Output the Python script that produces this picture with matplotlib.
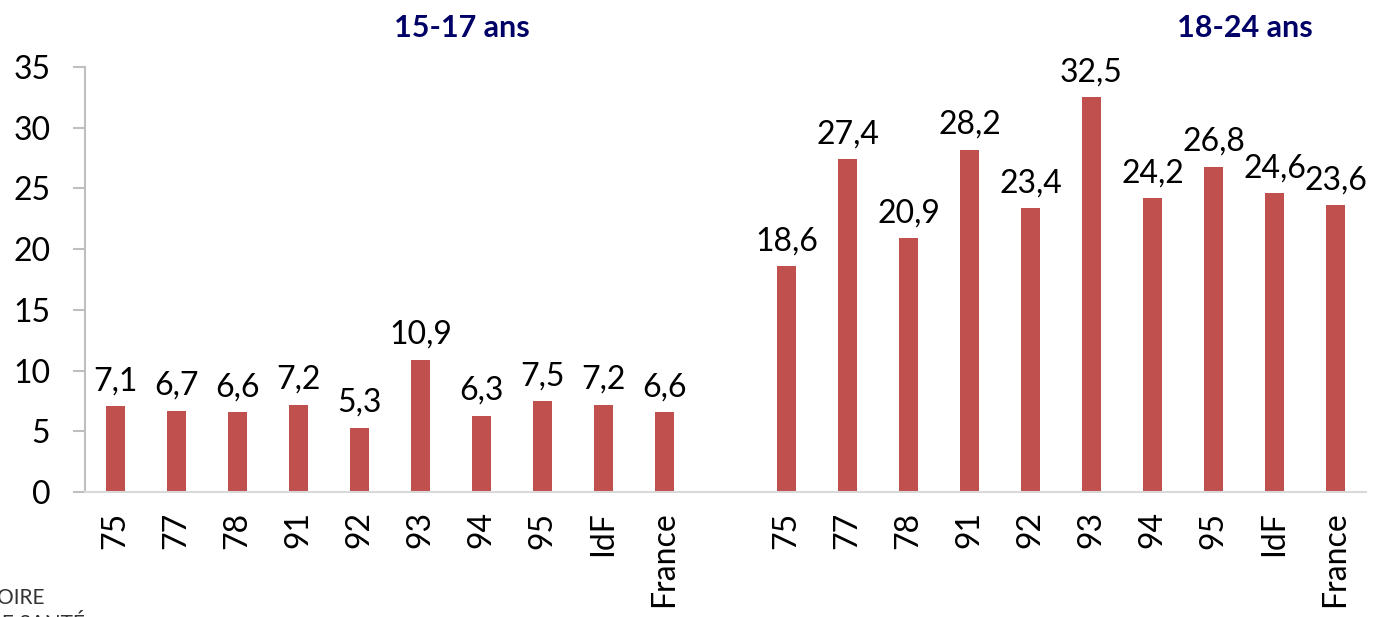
import matplotlib.pyplot as plt
import numpy as np

# données
territoires = ['75', '77', '78', '91', '92', '93', '94', '95', 'IdF', 'France']
ado_15_17 = [7.1, 6.7, 6.6, 7.2, 5.3, 10.9, 6.3, 7.5, 7.2, 6.6]
jeunes_18_24 = [18.6, 27.4, 20.9, 28.2, 23.4, 32.5, 24.2, 26.8, 24.6, 23.6]

plt.rcParams['font.family'] = ['Lato', 'DejaVu Sans']

fig = plt.figure(figsize=(13.76, 6.17), dpi=100)
ax = fig.add_axes([85 / 1376, 1 - 492 / 617, (1366 - 85) / 1376, (492 - 67) / 617])

x_gauche = np.arange(len(territoires))
x_droite = x_gauche + len(territoires) + 1
positions = np.concatenate([x_gauche, x_droite])
valeurs = ado_15_17 + jeunes_18_24
labels = territoires + territoires

bars = ax.bar(positions, valeurs, width=0.31, color='#C0504D')

for b, v in zip(bars, valeurs):
    ax.annotate(f"{v:.1f}".replace('.', ','),
                (b.get_x() + b.get_width() / 2, v),
                xytext=(0, 7), textcoords='offset points',
                ha='center', va='bottom', fontsize=23, color='black')

ax.set_xlim(-0.5, positions[-1] + 0.5)
ax.set_ylim(0, 35)
ax.set_yticks(range(0, 36, 5))
ax.set_xticks(positions)
ax.set_xticklabels(labels, rotation=90, fontsize=23)
ax.tick_params(axis='x', length=0, pad=14)
ax.tick_params(axis='y', labelsize=23, color='#BFBFBF', length=9, width=1.5, pad=16)

for s in ['top', 'right']:
    ax.spines[s].set_visible(False)
ax.spines['left'].set_color('#BFBFBF')
ax.spines['left'].set_linewidth(1.5)
ax.spines['bottom'].set_color('#D9D9D9')
ax.spines['bottom'].set_linewidth(1.5)

# titres des groupes
fig.text(462 / 1376, 1 - 28 / 617, '15-17 ans', ha='center', va='center',
         fontsize=22, fontweight='bold', color='#000066')
fig.text(1245 / 1376, 1 - 28 / 617, '18-24 ans', ha='center', va='center',
         fontsize=22, fontweight='bold', color='#000066')

# reste du logo, coupé
fig.text(-3 / 1376, 1 - 598 / 617, 'OIRE', ha='left', va='center',
         fontsize=15, color='#333333')
fig.text(-14 / 1376, 1 - 624 / 617, 'DE SANTÉ', ha='left', va='center',
         fontsize=15, color='#333333')

fig.savefig('out.png', dpi=100)
